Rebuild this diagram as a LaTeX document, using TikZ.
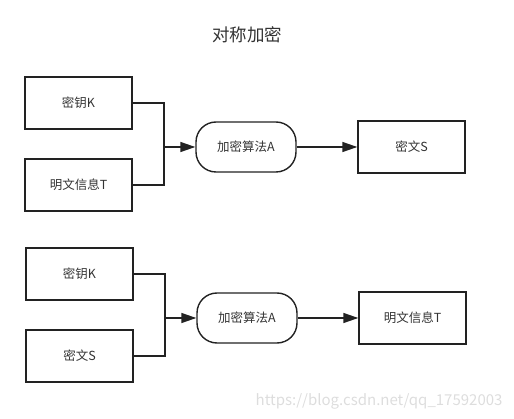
\documentclass[tikz,border=0pt]{standalone}
\usepackage{fontspec}
\setmainfont{Noto Sans CJK SC}
\usepackage{tikz}
\usetikzlibrary{arrows.meta, positioning}

\definecolor{ink}{HTML}{222222}
\definecolor{txt}{HTML}{333333}
\definecolor{mark}{HTML}{DDDDDD}

\begin{document}
\begin{tikzpicture}[
        x=1pt, y=-1pt,
        box/.style={rectangle, draw=ink, line width=1.4pt, minimum width=107pt, minimum height=52pt, font=\fontsize{12.5}{14}\selectfont, text=txt, inner sep=0pt},
        algo/.style={rectangle, draw=ink, line width=1.4pt, rounded corners=20pt, minimum width=100pt, minimum height=50pt, font=\fontsize{12.5}{14}\selectfont, text=txt, inner sep=0pt},
        arrow/.style={-{Triangle[length=15pt, width=10pt]}, line width=1.4pt, draw=ink},
        wire/.style={line width=1.4pt, draw=ink}
    ]
        \useasboundingbox (0,0) rectangle (514,419);
        \node[font=\fontsize{17.5}{20}\selectfont, text=txt] (title) at (247,35) {对称加密};

        % encryption
        \node[box] (key1) at (78.5,103) {密钥K};
        \node[box] (plain1) at (78.5,185) {明文信息T};
        \node[algo] (enc) at (246,147) {加密算法A};
        \node[box] (cipher1) at (411.5,147) {密文S};
        \coordinate (join1) at (164,147);

        \draw[wire] (key1.east) -| (join1);
        \draw[wire] (plain1.east) -| (join1);
        \draw[arrow] (join1) -- (enc.west);
        \draw[arrow] (enc.east) -- (cipher1.west);

        % decryption
        \node[box] (key2) at (79.5,274) {密钥K};
        \node[box] (cipher2) at (79.5,356) {密文S};
        \node[algo] (dec) at (247,318) {加密算法A};
        \node[box] (plain2) at (412.5,318) {明文信息T};
        \coordinate (join2) at (165,318);

        \draw[wire] (key2.east) -| (join2);
        \draw[wire] (cipher2.east) -| (join2);
        \draw[arrow] (join2) -- (dec.west);
        \draw[arrow] (dec.east) -- (plain2.west);

        \node[font=\fontsize{15}{17}\selectfont, text=mark, anchor=east] (wm) at (506,401) {https://blog.csdn.net/qq\_17592003};
    \end{tikzpicture}
\end{document}
